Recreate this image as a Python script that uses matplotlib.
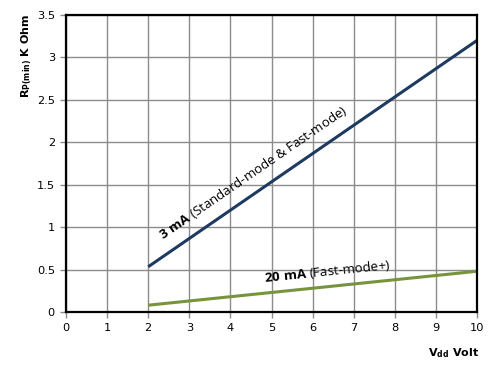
import matplotlib.pyplot as plt

plt.rcParams['mathtext.fontset'] = 'custom'
plt.rcParams['mathtext.rm'] = 'Open Sans'
plt.rcParams['mathtext.bf'] = 'Open Sans:bold'

vdd = [2, 10]
rp_3ma = [0.533, 3.2]
rp_20ma = [0.08, 0.48]
xticks = list(range(0, 11))
yticks = [0, 0.5, 1, 1.5, 2, 2.5, 3, 3.5]
ytick_labels = ['0', '0.5', '1', '1.5', '2', '2.5', '3', '3.5']

fig = plt.figure(figsize=(4.99, 3.74), dpi=100)
ax = fig.add_axes([0.1323, 0.1658, 0.8236, 0.7942])

ax.plot(vdd, rp_3ma, color='#1f3a60', lw=2.2, solid_capstyle='butt')
ax.plot(vdd, rp_20ma, color='#77933c', lw=2.2, solid_capstyle='butt')

ax.set_xlim(0, 10)
ax.set_ylim(0, 3.5)
ax.set_xticks(xticks)
ax.set_yticks(yticks)
ax.set_yticklabels(ytick_labels)
ax.grid(True, color='#8c8c8c', lw=1)
ax.set_axisbelow(True)
for s in ax.spines.values():
    s.set_color('black')
    s.set_linewidth(1.6)
ax.tick_params(direction='out', length=4, width=1, color='#8c8c8c',
               labelsize=8.2, pad=4)

ax.set_ylabel(r'R$_{\mathregular{P(min)}}$ K Ohm', fontsize=8, fontweight='bold',
              family='DejaVu Sans')
ax.yaxis.set_label_coords(-0.078, 0.862)
ax.set_xlabel(r'V$_{\mathregular{dd}}$ Volt', fontsize=8, fontweight='bold',
              family='DejaVu Sans')
ax.xaxis.set_label_coords(0.944, -0.114)

# labels along the lines
fam = ['Open Sans', 'DejaVu Sans']
ax.text(2.36, 0.85, r'$\mathbf{3\ mA}$ (Standard-mode & Fast-mode)',
        rotation=34.5, rotation_mode='anchor', fontsize=9.5, family=fam)
ax.text(4.84, 0.354, r'$\mathbf{20\ mA}$ (Fast-mode+)', rotation=5.9,
        rotation_mode='anchor', fontsize=9.5, family=fam)

fig.savefig('out.png', dpi=100)
